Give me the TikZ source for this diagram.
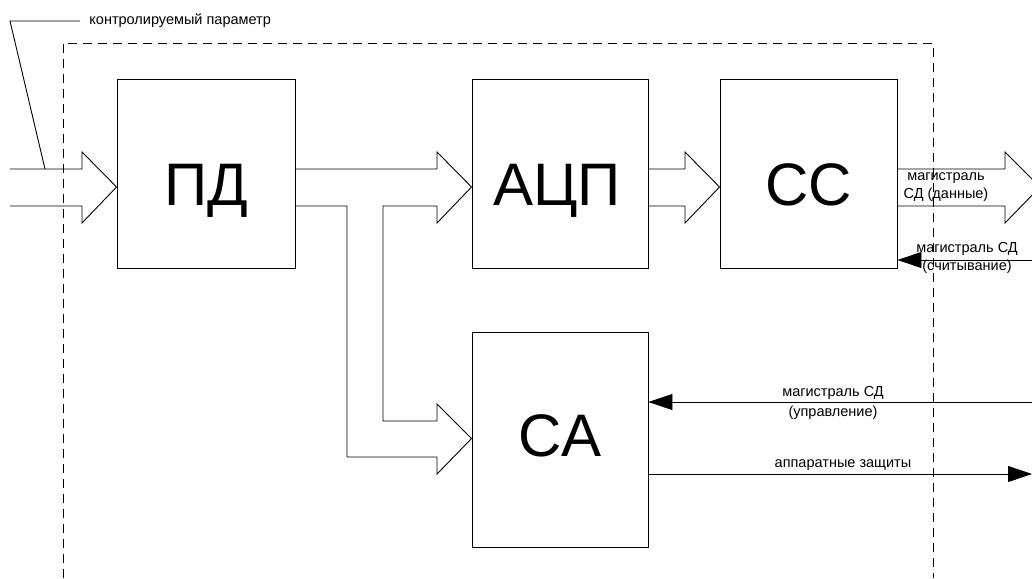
\documentclass[tikz,border=0pt]{standalone}
\usepackage{fontspec}
\setmainfont{Liberation Sans}
\usetikzlibrary{arrows.meta,calc}
\begin{document}
\begin{tikzpicture}[x=1pt,y=-1pt,line width=0.9pt,
  block/.style={draw,rectangle,inner sep=0pt,line width=0.9pt},
  big/.style={font=\fontsize{60}{60}\selectfont,inner sep=0pt,anchor=base},
  small/.style={font=\fontsize{14.5}{18}\selectfont,inner sep=0pt,align=center},
  fat/.style={draw,line width=0.9pt,line join=miter},
  boundary/.style={draw,line width=0.9pt,dash pattern=on 9pt off 6pt},
  bus/.style={draw,line width=0.9pt,-{Triangle[length=24pt,width=16pt]}}]
\useasboundingbox (0,0) rectangle (1032,578);

% blocks
\node[block,minimum width=178pt,minimum height=189pt] (pd)  at (206,173.5) {};
\node[block,minimum width=176pt,minimum height=189pt] (adc) at (560,173.5) {};
\node[block,minimum width=177pt,minimum height=189pt] (cc)  at (808.5,173.5) {};
\node[block,minimum width=176pt,minimum height=215pt] (ca)  at (560,439.5) {};

\node[big] (pdt)  at (206,205) {ПД};
\node[big] (adct) at (557,205) {АЦП};
\node[big] (cct)  at (808.5,205) {СС};
\node[big] (cat)  at (560,456) {СА};

% dashed boundary of the device
\draw[boundary] (63,578) -- (63,43) -- (933,43) -- (933,578);

% input fat arrow into ПД
\draw[fat] (10,169) -- (82,169) -- (82,152) -- (pd.west |- 0,187) -- (82,223) -- (82,206) -- (10,206);

% label of the controlled quantity
\coordinate (lbl) at (10,21);
\draw (45,169) -- (lbl) -- (80,21);
\node[small,anchor=west] (lblt) at (89,21) {контролируемый параметр};

% ПД -> АЦП with a branch down to СА
\draw[fat] (pd.east |- 0,169) -- (437,169) -- (437,152) -- (adc.west |- 0,187) -- (437,223) -- (437,206)
  -- (383,206) -- (383,421) -- (437,421) -- (437,404) -- (ca.west |- 0,438.5) -- (437,474) -- (437,457)
  -- (347,457) -- (347,206) -- (pd.east |- 0,206);

% АЦП -> СС
\draw[fat] (adc.east |- 0,169) -- (685,169) -- (685,152) -- (cc.west |- 0,187) -- (685,223) -- (685,206) -- (adc.east |- 0,206);

% СС -> data bus
\draw[fat] (cc.east |- 0,169) -- (1005,169) -- (1005,152) -- (1040,187) -- (1005,223) -- (1005,206) -- (cc.east |- 0,206);
\node[small] (datat) at (946,187) {магистраль\\СД (данные)};

% read bus into СС
\coordinate (rd) at (1032,260);
\draw[bus] (rd) -- (cc.east |- rd);
\node[small] (rdt) at (967,257.5) {магистраль СД\\(считывание)};

% control bus into СА
\coordinate (ctl) at (1032,402);
\draw[bus] (ctl) -- (ca.east |- ctl);
\node[small] (ctlt1) at (833,393) {магистраль СД};
\node[small] (ctlt2) at (833,413) {(управление)};

% hardware protection output
\coordinate (prot) at (1032,474);
\draw[bus] (ca.east |- prot) -- (prot);
\node[small] (prott) at (843,465) {аппаратные защиты};
\end{tikzpicture}
\end{document}
